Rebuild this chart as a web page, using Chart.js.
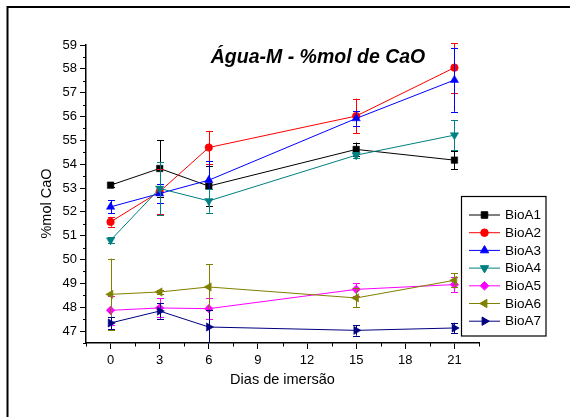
<!DOCTYPE html>
<html>
<head>
<meta charset="utf-8">
<script src="https://cdn.jsdelivr.net/npm/chart.js@4.4.1/dist/chart.umd.min.js"></script>
<style>
  html, body { margin: 0; padding: 0; background: #fff; }
  #wrap { width: 570px; height: 417px; }
</style>
</head>
<body>
<div id="wrap"><canvas id="cao" width="570" height="417"></canvas></div>
<script>
// -------------------------------
// DATA
// -------------------------------
const days = [0, 3, 6, 15, 21];
const xTicks = [0, 3, 6, 9, 12, 15, 18, 21];
const yTicks = [47, 48, 49, 50, 51, 52, 53, 54, 55, 56, 57, 58, 59];

const names = ["BioA1", "BioA2", "BioA3", "BioA4", "BioA5", "BioA6", "BioA7"];

const bioA1 = [53.12, 53.82, 53.08, 54.62, 54.17];
const bioA2 = [51.58, 52.85, 54.70, 56.02, 58.05];
const bioA3 = [52.21, 52.77, 53.33, 55.92, 57.53];
const bioA4 = [50.81, 52.98, 52.46, 54.38, 55.22];
const bioA5 = [47.87, 47.97, 47.94, 48.75, 48.95];
const bioA6 = [48.54, 48.64, 48.85, 48.39, 49.13];
const bioA7 = [47.34, 47.84, 47.17, 47.03, 47.13];

// error bars (+/-)
const errA1 = [0.08, 1.18, 0.85, 0.29, 0.38];
const errA2 = [0.20, 0.95, 0.70, 0.73, 1.05];
const errA3 = [0.27, 0.40, 0.80, 0.30, 1.33];
const errA4 = [0.12, 1.10, 0.50, 0.12, 0.63];
const errA5 = [0.62, 0.40, 0.45, 0.27, 0.33];
const errA6 = [1.50, 0.08, 0.95, 0.40, 0.30];
const errA7 = [0.25, 0.32, 0.72, 0.22, 0.22];

// -------------------------------
// STYLES
// -------------------------------
const FONT = '"Liberation Sans", Arial, sans-serif';
const styles = [
    { color: "#000000", point: "rect",     radius: 4.6, rotation: 0 },
    { color: "#ff0000", point: "circle",   radius: 3.8, rotation: 0 },
    { color: "#0000ff", point: "triangle", radius: 4.8, rotation: 0 },
    { color: "#008080", point: "triangle", radius: 4.8, rotation: 180 },
    { color: "#ff00ff", point: "rectRot",  radius: 4.3, rotation: 0 },
    { color: "#808000", point: "triangle", radius: 4.8, rotation: 270 },
    { color: "#000080", point: "triangle", radius: 4.8, rotation: 90 }
];

const series = [bioA1, bioA2, bioA3, bioA4, bioA5, bioA6, bioA7];
const errors = [errA1, errA2, errA3, errA4, errA5, errA6, errA7];

const datasets = series.map((vals, i) => ({
    label: names[i],
    data: vals.map((v, j) => ({ x: days[j], y: v })),
    errors: errors[i],
    borderColor: styles[i].color,
    backgroundColor: styles[i].color,
    pointBackgroundColor: styles[i].color,
    pointBorderColor: styles[i].color,
    pointBorderWidth: 0.5,
    pointStyle: styles[i].point,
    pointRadius: styles[i].radius,
    pointRotation: styles[i].rotation,
    borderWidth: 1,
    tension: 0,
    order: 6 - i
}));

// -------------------------------
// PLUGINS
// -------------------------------
const errorBars = {
    id: "errorBars",
    beforeDatasetDraw(chart, args) {
        const ds = chart.data.datasets[args.index];
        const y = chart.scales.y;
        const area = chart.chartArea;
        const c = chart.ctx;
        c.save();
        c.beginPath();
        c.rect(area.left, area.top - 2, area.right - area.left, area.bottom - area.top + 2);
        c.clip();
        c.strokeStyle = ds.borderColor;
        c.lineWidth = 1;
        args.meta.data.forEach((pt, i) => {
            const v = ds.data[i].y;
            const e = ds.errors[i];
            const top = y.getPixelForValue(v + e);
            const bot = y.getPixelForValue(v - e);
            const px = Math.round(pt.x) + 0.5;
            c.beginPath();
            c.moveTo(px, top); c.lineTo(px, bot);
            c.moveTo(px - 3.5, Math.round(top) + 0.5); c.lineTo(px + 3.5, Math.round(top) + 0.5);
            c.moveTo(px - 3.5, Math.round(bot) + 0.5); c.lineTo(px + 3.5, Math.round(bot) + 0.5);
            c.stroke();
        });
        c.restore();
    }
};

const decorations = {
    id: "decorations",
    beforeDraw(chart) {
        const c = chart.ctx;
        c.save();
        c.fillStyle = "#fff";
        c.fillRect(0, 0, chart.width, chart.height);
        // outer frame (top + left only)
        c.strokeStyle = "#000";
        c.lineWidth = 2;
        c.beginPath();
        c.moveTo(7.5, chart.height);
        c.lineTo(7.5, 7);
        c.lineTo(chart.width, 7);
        c.stroke();
        c.restore();
    },
    afterDraw(chart) {
        const c = chart.ctx;
        const xs = chart.scales.x, ys = chart.scales.y;
        const area = chart.chartArea;
        c.save();

        // minor ticks
        c.strokeStyle = "#000";
        c.lineWidth = 1;
        c.beginPath();
        for (let v = 46.5; v < 59; v += 1) {
            const py = Math.round(ys.getPixelForValue(v)) + 0.5;
            c.moveTo(area.left - 3, py); c.lineTo(area.left, py);
        }
        for (let v = -1.5; v <= 22.5; v += 3) {
            const px = Math.round(xs.getPixelForValue(v)) + 0.5;
            c.moveTo(px, area.bottom); c.lineTo(px, area.bottom + 3.5);
        }
        c.stroke();

        // main title
        c.fillStyle = "#000";
        c.font = "italic bold 19.5px " + FONT;
        c.textAlign = "center";
        c.textBaseline = "alphabetic";
        c.fillText("Água-M - %mol de CaO", 318, 62.5);

        // y axis title
        c.save();
        c.translate(47, 203.5);
        c.rotate(-Math.PI / 2);
        c.font = "14.5px " + FONT;
        c.textBaseline = "middle";
        c.fillText("%mol CaO", 0, 0);
        c.restore();

        // legend
        c.fillStyle = "#fff";
        c.fillRect(462, 197, 84, 139);
        c.strokeStyle = "#000";
        c.lineWidth = 1.2;
        c.strokeRect(461.5, 196.5, 84.5, 139.5);
        names.forEach((n, i) => {
            const ly = 215 + i * 17.7;
            c.strokeStyle = styles[i].color;
            c.lineWidth = 1;
            c.beginPath();
            c.moveTo(469, ly); c.lineTo(500, ly);
            c.stroke();
            c.fillStyle = styles[i].color;
            Chart.helpers.drawPoint(c, {
                pointStyle: styles[i].point,
                radius: styles[i].radius,
                rotation: styles[i].rotation,
                borderWidth: 0.5
            }, 484.5, ly);
            c.fillStyle = "#000";
            c.font = "13.5px " + FONT;
            c.textAlign = "left";
            c.textBaseline = "middle";
            c.fillText(n, 505, ly + 0.5);
        });
        c.restore();
    }
};

// -------------------------------
// CHART
// -------------------------------
new Chart(document.getElementById("cao"), {
    type: "line",
    data: { datasets },
    plugins: [errorBars, decorations],
    options: {
        responsive: false,
        animation: false,
        devicePixelRatio: 1,
        layout: { padding: { top: 45, right: 91, left: 0, bottom: 0 } },
        plugins: {
            legend: { display: false },
            tooltip: { enabled: false }
        },
        scales: {
            x: {
                type: "linear",
                min: -1.5,
                max: 22.5,
                afterBuildTicks: s => { s.ticks = xTicks.map(v => ({ value: v })); },
                afterFit: s => { s.height = 74; },
                ticks: { color: "#000", font: { family: FONT, size: 13 }, padding: 4, maxRotation: 0 },
                grid: { drawOnChartArea: false, drawTicks: true, tickLength: 6, tickColor: "#000", tickWidth: 1 },
                border: { display: true, color: "#000", width: 1.5 },
                title: {
                    display: true,
                    text: "Dias de imersão",
                    color: "#000",
                    font: { family: FONT, size: 14.5 },
                    padding: { top: 0, bottom: 28 }
                }
            },
            y: {
                type: "linear",
                min: 46.5,
                max: 59,
                afterBuildTicks: s => { s.ticks = yTicks.map(v => ({ value: v })); },
                afterFit: s => { s.width = 86; },
                ticks: { color: "#000", font: { family: FONT, size: 13 }, padding: 3 },
                grid: { drawOnChartArea: false, drawTicks: true, tickLength: 6, tickColor: "#000", tickWidth: 1 },
                border: { display: true, color: "#000", width: 1.5 }
            }
        }
    }
});
</script>
</body>
</html>
